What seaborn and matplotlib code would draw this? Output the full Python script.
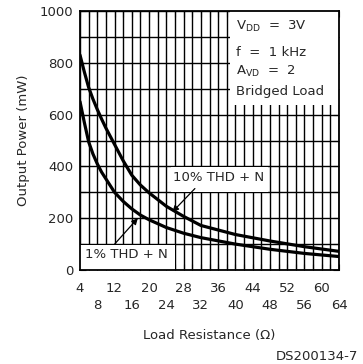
import numpy as np
import pandas as pd
import matplotlib
matplotlib.use("Agg")
import matplotlib.pyplot as plt
import seaborn as sns

# Load resistance (ohms) and output power (mW) for the two THD+N limits
load_r = [4, 5, 6, 7, 8, 9, 10, 12, 14, 16, 18, 20, 24, 28, 32, 40, 48, 56, 64]
p_1pct = [650, 570, 495, 448, 410, 378, 352, 300, 265, 236, 212, 194, 164, 142, 125, 100, 80, 64, 52]
p_10pct = [830, 765, 705, 660, 620, 583, 548, 485, 422, 366, 328, 298, 246, 207, 172, 137, 112, 90, 72]

y_ticks = list(range(0, 1001, 200))
conditions = ["V$_{\\mathrm{DD}}$  =  3V", "f  =  1 kHz", "A$_{\\mathrm{VD}}$  =  2", "Bridged Load"]

df = pd.DataFrame({
    "R": load_r * 2,
    "P": p_1pct + p_10pct,
    "curve": ["1%"] * len(load_r) + ["10%"] * len(load_r),
})

sns.set_style("white")
plt.rcParams["font.family"] = ["DejaVu Sans"]
plt.rcParams["mathtext.fontset"] = "dejavusans"
FS = 9.5

fig = plt.figure(figsize=(3.63, 3.64), dpi=100)
ax = fig.add_axes([80 / 363, 1 - 270 / 364, 259 / 363, 259 / 364])

ax.set_xlim(4, 64)
ax.set_ylim(0, 1000)

# grid every 2 ohms and every 100 mW
grid_x = np.arange(4, 65, 2)
grid_y = np.arange(0, 1001, 100)
for gx in grid_x:
    ax.plot([gx, gx], [0, 1000], color="black", lw=1.0,
            solid_capstyle="butt", zorder=0.8)
for gy in grid_y:
    ax.plot([4, 64], [gy, gy], color="black", lw=1.0,
            solid_capstyle="butt", zorder=0.8)

sns.lineplot(data=df, x="R", y="P", units="curve", estimator=None,
             color="black", lw=2.3, ax=ax, zorder=2, legend=False)

ax.set_xlim(4, 64)
ax.set_ylim(0, 1000)

# tick marks every grid line, labels on alternating rows
ax.set_xticks(grid_x)
xlabels = []
for v in grid_x:
    if v % 8 == 4:
        xlabels.append(str(v))
    elif v % 8 == 0:
        xlabels.append("\n" + str(v))
    else:
        xlabels.append("")
ax.set_xticklabels(xlabels, fontsize=FS, linespacing=1.45)
ax.set_yticks(grid_y)
ax.set_yticklabels([str(v) if v in y_ticks else "" for v in grid_y], fontsize=FS)
ax.tick_params(axis="both", direction="in", length=4, width=0.8, top=True, right=True,
               bottom=True, left=True, color="black")
ax.tick_params(axis="x", pad=8.5)
ax.tick_params(axis="y", pad=5)

for s in ax.spines.values():
    s.set_color("black")
    s.set_linewidth(1.3)
    s.set_zorder(3)

ax.set_xlabel("Load Resistance (\u03a9)", fontsize=FS, labelpad=12)
ax.set_ylabel("Output Power (mW)", fontsize=FS, labelpad=7)

# white panels behind the annotations
ax.add_patch(plt.Rectangle((0.579, 0.637), 0.421, 0.363, transform=ax.transAxes,
                           facecolor="white", edgecolor="none", zorder=1))
ax.add_patch(plt.Rectangle((0.0, 0.0), 0.365, 0.097, transform=ax.transAxes,
                           facecolor="white", edgecolor="none", zorder=1))
ax.add_patch(plt.Rectangle((0.35, 0.303), 0.375, 0.094, transform=ax.transAxes,
                           facecolor="white", edgecolor="none", zorder=1))

for txt, yy in zip(conditions, [0.927, 0.827, 0.753, 0.676]):
    ax.text(0.602, yy, txt, transform=ax.transAxes, fontsize=FS, va="baseline",
            ha="left", zorder=4)

ax.annotate("10% THD + N", xy=(25.4, 224), xytext=(36.0, 356), fontsize=FS,
            ha="center", va="center", zorder=4,
            arrowprops=dict(arrowstyle="-|>", color="black", lw=0.9, mutation_scale=9,
                            shrinkA=1, shrinkB=0, relpos=(0.29, 0.0)))
ax.annotate("1% THD + N", xy=(17.4, 200), xytext=(14.8, 59), fontsize=FS,
            ha="center", va="center", zorder=4,
            arrowprops=dict(arrowstyle="-|>", color="black", lw=0.9, mutation_scale=9,
                            shrinkA=1, shrinkB=0, relpos=(0.31, 1.0)))

fig.text(358 / 363, 1 - 356 / 364, "DS200134-7", fontsize=FS, ha="right", va="center")

fig.savefig("out.png", dpi=100)
